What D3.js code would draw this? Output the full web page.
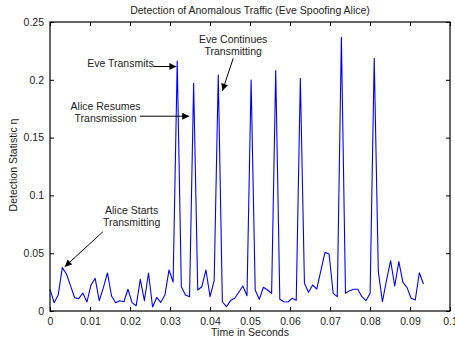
<!DOCTYPE html>
<html>
<head>
<meta charset="utf-8">
<script src="https://cdn.jsdelivr.net/npm/d3@7"></script>
<style>
  body { margin: 0; background: #fff; }
  svg { display: block; font-family: "Liberation Sans", Arial, sans-serif; }
</style>
</head>
<body>
<div id="canvas"></div>
<script>
// detection statistic, one sample every sampleStep seconds
var sampleStep = 0.001026;
var eta = [0.0188, 0.0072, 0.0138, 0.0375, 0.032, 0.022, 0.0115, 0.0107, 0.0156, 0.0078,
    0.0225, 0.0283, 0.0089, 0.020, 0.0329, 0.013, 0.0072, 0.0089, 0.008, 0.0188,
    0.0072, 0.0046, 0.0274, 0.0089, 0.0329, 0.0035, 0.0117, 0.0075, 0.0138, 0.0355,
    0.025, 0.2163, 0.021, 0.0138, 0.0124, 0.197, 0.0182, 0.021, 0.0355, 0.0124,
    0.0262, 0.2042, 0.008, 0.0037, 0.009, 0.011, 0.0162, 0.0216, 0.0132, 0.1998,
    0.0182, 0.0101, 0.0205, 0.0182, 0.0153, 0.2079, 0.0101, 0.008, 0.0078, 0.011,
    0.0092, 0.2013, 0.024, 0.0162, 0.0225, 0.019, 0.0349, 0.0508, 0.0493, 0.0153,
    0.0124, 0.2368, 0.0153, 0.0176, 0.0188, 0.0188, 0.0124, 0.0089, 0.0153, 0.2186,
    0.034, 0.008, 0.0268, 0.0435, 0.0216, 0.0427, 0.0248, 0.0202, 0.011, 0.0095,
    0.0331, 0.0234];

var xTicks = [0, 0.01, 0.02, 0.03, 0.04, 0.05, 0.06, 0.07, 0.08, 0.09, 0.1];
var yTicks = [0, 0.05, 0.1, 0.15, 0.2, 0.25];

// annotations: text lines, text anchor point, arrow from -> to (in data units)
var notes = [
    {lines: ['Eve Continues', 'Transmitting'], tx: 0.0458, ty: 0.232, from: [0.0458, 0.2185], to: [0.0431, 0.1905]},
    {lines: ['Eve Transmits'], tx: 0.0176, ty: 0.2115, from: [0.0258, 0.2115], to: [0.0316, 0.2115]},
    {lines: ['Alice Resumes', 'Transmission'], tx: 0.0139, ty: 0.1735, from: [0.0225, 0.1685], to: [0.0348, 0.1685]},
    {lines: ['Alice Starts', 'Transmitting'], tx: 0.0204, ty: 0.0835, from: [0.0132, 0.0685], to: [0.0037, 0.0383]}
];

var width = 455, height = 341;
var plotLeft = 50, plotRight = 450, plotTop = 22, plotBottom = 311;

var svg = d3.select('#canvas').append('svg')
    .attr('width', width)
    .attr('height', height);

var x = d3.scaleLinear().domain([0, 0.1]).range([plotLeft, plotRight]);
var y = d3.scaleLinear().domain([0, 0.25]).range([plotBottom, plotTop]);

// data line
var line = d3.line()
    .x(function(d, i) { return x(i * sampleStep); })
    .y(function(d) { return y(d); });

svg.append('path')
    .datum(eta)
    .attr('d', line)
    .attr('fill', 'none')
    .attr('stroke', '#0000ff')
    .attr('stroke-width', 1.1)
    .attr('stroke-linejoin', 'round');

// axes, ticks pointing inward like matlab
function styleAxis(g) {
    g.selectAll('text').attr('font-size', '10.5px').attr('fill', '#222')
        .attr('font-family', '"Liberation Sans", Arial, sans-serif');
    g.selectAll('line').attr('stroke', '#000');
    g.select('.domain').remove();
}

svg.append('g')
    .attr('transform', 'translate(0,' + plotBottom + ')')
    .call(d3.axisBottom(x).tickValues(xTicks).tickFormat(d3.format('')).tickSizeInner(-4).tickSizeOuter(0).tickPadding(7))
    .call(styleAxis);
svg.append('g')
    .attr('transform', 'translate(0,' + plotTop + ')')
    .call(d3.axisTop(x).tickValues(xTicks).tickFormat('').tickSizeInner(-4).tickSizeOuter(0))
    .call(styleAxis);
svg.append('g')
    .attr('transform', 'translate(' + plotLeft + ',0)')
    .call(d3.axisLeft(y).tickValues(yTicks).tickFormat(d3.format('')).tickSizeInner(-4).tickSizeOuter(0).tickPadding(6))
    .call(styleAxis);
svg.append('g')
    .attr('transform', 'translate(' + plotRight + ',0)')
    .call(d3.axisRight(y).tickValues(yTicks).tickFormat('').tickSizeInner(-4).tickSizeOuter(0))
    .call(styleAxis);

// frame
svg.append('rect')
    .attr('x', plotLeft)
    .attr('y', plotTop)
    .attr('width', plotRight - plotLeft)
    .attr('height', plotBottom - plotTop)
    .attr('fill', 'none')
    .attr('stroke', '#000')
    .attr('stroke-width', 1.2);

// titles
svg.append('text')
    .attr('x', 250)
    .attr('y', 14)
    .attr('text-anchor', 'middle')
    .attr('font-size', '10.5px')
    .attr('fill', '#222')
    .text('Detection of Anomalous Traffic (Eve Spoofing Alice)');

svg.append('text')
    .attr('x', 250)
    .attr('y', 336)
    .attr('text-anchor', 'middle')
    .attr('font-size', '10.5px')
    .attr('fill', '#222')
    .text('Time in Seconds');

svg.append('text')
    .attr('transform', 'translate(17,165) rotate(-90)')
    .attr('text-anchor', 'middle')
    .attr('font-size', '10.5px')
    .attr('fill', '#222')
    .text('Detection Statistic η');

// arrow heads
svg.append('defs').append('marker')
    .attr('id', 'head')
    .attr('viewBox', '0 0 10 10')
    .attr('refX', 10)
    .attr('refY', 5)
    .attr('markerWidth', 9)
    .attr('markerHeight', 7)
    .attr('markerUnits', 'userSpaceOnUse')
    .attr('orient', 'auto')
    .append('path')
    .attr('d', 'M0,0L10,5L0,10z')
    .attr('fill', '#000');

notes.forEach(function(n) {
    var t = svg.append('text')
        .attr('text-anchor', 'middle')
        .attr('font-size', '10.5px')
        .attr('fill', '#222');
    n.lines.forEach(function(s, i) {
        t.append('tspan')
            .attr('x', x(n.tx))
            .attr('y', y(n.ty) + i * 12)
            .text(s);
    });
    svg.append('line')
        .attr('x1', x(n.from[0]))
        .attr('y1', y(n.from[1]))
        .attr('x2', x(n.to[0]))
        .attr('y2', y(n.to[1]))
        .attr('stroke', '#000')
        .attr('stroke-width', 1)
        .attr('marker-end', 'url(#head)');
});
</script>
</body>
</html>
